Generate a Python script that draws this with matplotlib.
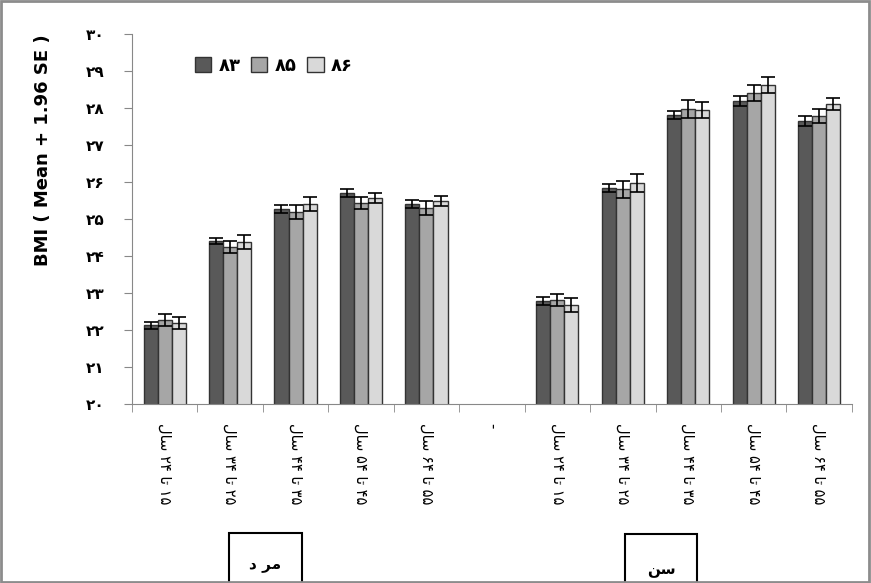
import numpy as np
import matplotlib
matplotlib.use("Agg")
import matplotlib.pyplot as plt
from matplotlib.patches import Rectangle

# age groups, written in visual (shaped, left-to-right) order
age_labels = ["ﻝﺎﺳ ۲۴ ﺎﺗ ۱۵", "ﻝﺎﺳ ۳۴ ﺎﺗ ۲۵", "ﻝﺎﺳ ۴۴ ﺎﺗ ۳۵",
              "ﻝﺎﺳ ۵۴ ﺎﺗ ۴۵", "ﻝﺎﺳ ۶۴ ﺎﺗ ۵۵"]
years = ["۸۳", "۸۵", "۸۶"]
ytick_labels = ["۲۰", "۲۱", "۲۲", "۲۳", "۲۴", "۲۵", "۲۶", "۲۷", "۲۸", "۲۹", "۳۰"]

# men (mean BMI) for years 83, 85, 86
men_83 = [22.13, 24.41, 25.27, 25.70, 25.41]
men_85 = [22.27, 24.24, 25.19, 25.43, 25.30]
men_86 = [22.20, 24.38, 25.41, 25.57, 25.49]
men_err_83 = [0.10, 0.08, 0.11, 0.11, 0.11]
men_err_85 = [0.16, 0.16, 0.19, 0.16, 0.19]
men_err_86 = [0.16, 0.19, 0.19, 0.14, 0.14]

# women
women_83 = [22.78, 25.84, 27.81, 28.19, 27.65]
women_85 = [22.81, 25.80, 27.97, 28.41, 27.78]
women_86 = [22.68, 25.97, 27.95, 28.62, 28.11]
women_err_83 = [0.11, 0.11, 0.11, 0.13, 0.13]
women_err_85 = [0.16, 0.24, 0.24, 0.22, 0.19]
women_err_86 = [0.19, 0.24, 0.22, 0.22, 0.16]

colors = ["#595959", "#a6a6a6", "#d9d9d9"]

cat_labels = age_labels + ["-"] + age_labels
nan = [np.nan]
series = [men_83 + nan + women_83, men_85 + nan + women_85, men_86 + nan + women_86]
errors = [men_err_83 + nan + women_err_83, men_err_85 + nan + women_err_85,
          men_err_86 + nan + women_err_86]

plt.rcParams['font.family'] = ['DejaVu Sans']

fig = plt.figure(figsize=(8.71, 5.83), dpi=100)
ax = fig.add_axes([0.1515, 0.307, 0.8265, 0.6347])

x = np.arange(len(cat_labels))
w = 0.215
for i in range(3):
    ax.bar(x + (i - 1) * w, series[i], w, bottom=0, color=colors[i],
           edgecolor="#333333", linewidth=1, label=years[i],
           yerr=errors[i], error_kw=dict(ecolor="black", elinewidth=1.2, capsize=5, capthick=1.2))

ax.set_ylim(20, 30)
ax.set_xlim(-0.5, len(cat_labels) - 0.5)
ax.set_yticks(np.arange(20, 31))
ax.set_yticklabels(ytick_labels, fontsize=11, fontweight="bold")
ax.set_xticks(x)
ax.set_xticklabels(cat_labels, rotation=270, fontsize=10.5)
ax.set_xticks(np.arange(-0.5, len(cat_labels)), minor=True)
ax.tick_params(axis="x", which="major", length=0, pad=14)
ax.tick_params(axis="x", which="minor", length=6, color="#888888")
ax.tick_params(axis="y", length=6, color="#888888", pad=14)

for s in ["top", "right"]:
    ax.spines[s].set_visible(False)
for s in ["left", "bottom"]:
    ax.spines[s].set_color("#888888")

fig.text(0.049, 0.743, "BMI ( Mean + 1.96 SE )", rotation=90, fontsize=13,
         fontweight="bold", ha="center", va="center")

ax.legend(loc="upper left", bbox_to_anchor=(0.205, 0.93), bbox_transform=fig.transFigure,
          ncol=3, frameon=False, handlelength=0.9, handleheight=0.9, handletextpad=0.4,
          columnspacing=0.6, prop=dict(size=13, weight="bold"))

# group boxes under the axis
for (x0, x1, y0, txt, ty) in [(229, 302, 533, "ﺩ ﺮﻣ", 565), (625, 697, 534, "ﻦﺳ", 570)]:
    fig.patches.append(Rectangle((x0 / 871, -0.05), (x1 - x0) / 871, 0.05 + (583 - y0) / 583,
                                 transform=fig.transFigure, fill=False,
                                 edgecolor="black", linewidth=1.5))
    fig.text((x0 + x1) / 2 / 871, 1 - ty / 583, txt, fontsize=11, fontweight="bold",
             ha="center", va="center")

# outer frame
fig.patches.append(Rectangle((0.001, 0.001), 0.997, 0.997, transform=fig.transFigure,
                             fill=False, edgecolor="#8c8c8c", linewidth=2))

fig.savefig("out.png", dpi=100)
